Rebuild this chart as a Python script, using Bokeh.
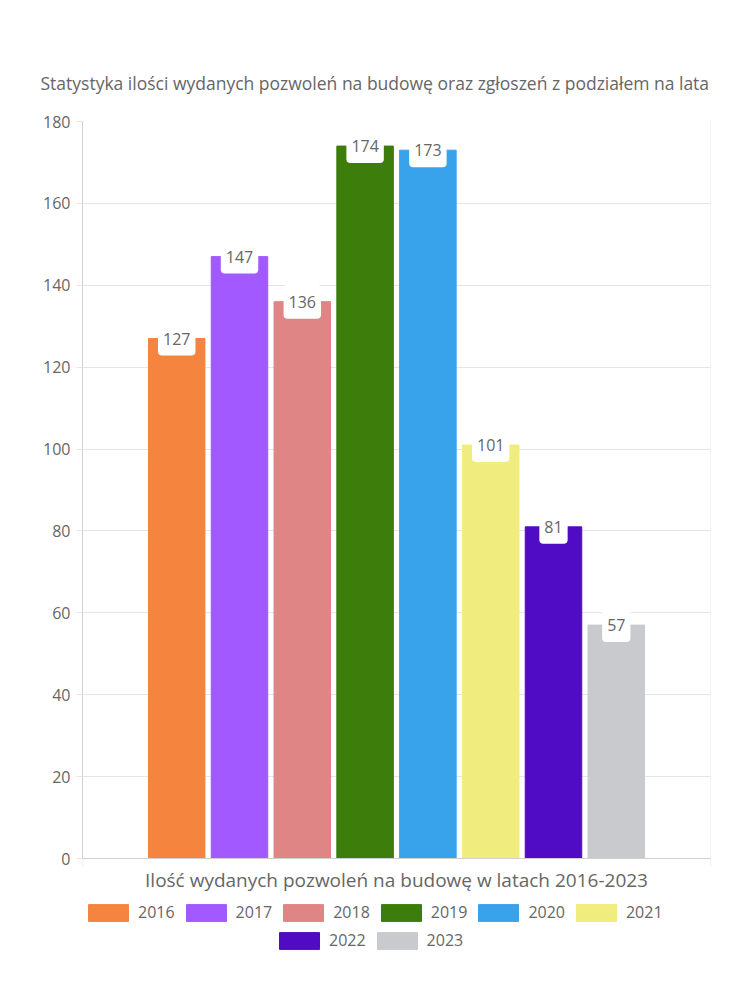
from bokeh.plotting import figure
from bokeh.models import Range1d, Legend, LegendItem, ColumnDataSource, FixedTicker, Span
from bokeh.embed import file_html
from bokeh.resources import INLINE
from bokeh.core.properties import value

# ---- data ----
years = ["2016", "2017", "2018", "2019", "2020", "2021", "2022", "2023"]
counts = [127, 147, 136, 174, 173, 101, 81, 57]
colors = ["#F5843F", "#A259FF", "#E08585", "#3D7D0C", "#38A3EB", "#F0EC7E", "#500BC4", "#C9CACD"]
y_ticks = [0, 20, 40, 60, 80, 100, 120, 140, 160, 180]
title_text = "Statystyka ilości wydanych pozwoleń na budowę oraz zgłoszeń z podziałem na lata"
x_title = "Ilość wydanych pozwoleń na budowę w latach 2016-2023"

FONT = "Open Sans"
GRAY = "#666666"

# geometry of the value scale: 0..180 over 737 px; frame extends below 0 to host legend
Y_MAX = 180
PX_PER_UNIT = 737 / 180.0
FRAME_TOP, FRAME_BOTTOM = 121, 990
Y_MIN = Y_MAX - (FRAME_BOTTOM - FRAME_TOP) / PX_PER_UNIT


def px_below_zero(px):
    return -px / PX_PER_UNIT


# grouped bars inside a single category: 8 slots of width 1 in a 10-unit category
xs = [1.5 + i for i in range(len(years))]

src = ColumnDataSource(dict(x=xs, top=counts, color=colors, year=years,
                            label=[str(c) for c in counts]))

p = figure(width=750, height=1000, output_backend="svg", toolbar_location=None,
           x_range=Range1d(0, 10), y_range=Range1d(Y_MIN, Y_MAX),
           min_border_left=82, min_border_right=40, min_border_top=FRAME_TOP,
           min_border_bottom=1000 - FRAME_BOTTOM,
           background_fill_color="white", border_fill_color="white")
p.outline_line_color = None

p.title.text = title_text
p.title.align = "left"
p.title.text_font = FONT
p.title.text_font_size = "17.5px"
p.title.text_font_style = "normal"
p.title.text_color = GRAY
p.title.standoff = 54
p.title.offset = -42

# grid lines
p.ygrid.ticker = FixedTicker(ticks=y_ticks)
p.ygrid.grid_line_color = "#e5e5e5"
p.xgrid.visible = False
p.segment(x0=[0, 10], y0=[px_below_zero(8)] * 2, x1=[0, 10], y1=[Y_MAX] * 2,
          line_color="#e5e5e5", line_width=1)
p.add_layout(Span(location=0, dimension="width", line_color="#d0d0d0", line_width=1))

bars = p.vbar(x="x", top="top", width=0.9, bottom=0, color="color", line_color="color", source=src)

p.text(x="x", y="top", text="label", source=src,
       text_align="center", text_baseline="middle",
       text_font=value(FONT), text_font_size="16px", text_color=GRAY,
       background_fill_color="white", padding=(5, 11), border_radius=4)

# x-axis title (placed under the baseline)
p.text(x=[5], y=[px_below_zero(21)], text=[x_title], text_align="center", text_baseline="middle",
       text_font=value(FONT), text_font_size="19px", text_color=GRAY)

# y axis
p.yaxis.ticker = FixedTicker(ticks=y_ticks)
p.yaxis.bounds = (0, Y_MAX)
p.yaxis.major_label_text_font = FONT
p.yaxis.major_label_text_font_size = "16px"
p.yaxis.major_label_text_color = GRAY
p.yaxis.axis_line_color = "#d0d0d0"
p.yaxis.major_tick_line_color = "#e5e5e5"
p.yaxis.major_tick_out = 6
p.yaxis.major_tick_in = 0
p.yaxis.minor_tick_line_color = None
p.yaxis.major_label_standoff = 6

p.xaxis.visible = False

items1 = [LegendItem(label=years[i], renderers=[bars], index=i) for i in range(6)]
items2 = [LegendItem(label=years[i], renderers=[bars], index=i) for i in range(6, 8)]


def mk_legend(items, loc):
    lg = Legend(items=items, orientation="horizontal", location=loc,
                glyph_width=50, glyph_height=21, label_standoff=5, spacing=6,
                padding=0, margin=0, border_line_color=None, background_fill_alpha=0,
                label_text_font=FONT, label_text_font_size="16px", label_text_color=GRAY,
                label_height=17)
    return lg


p.add_layout(mk_legend(items1, (1, FRAME_BOTTOM - 923)))
p.add_layout(mk_legend(items2, (192, FRAME_BOTTOM - 951)))

open("out.html", "w").write(file_html(p, INLINE))
